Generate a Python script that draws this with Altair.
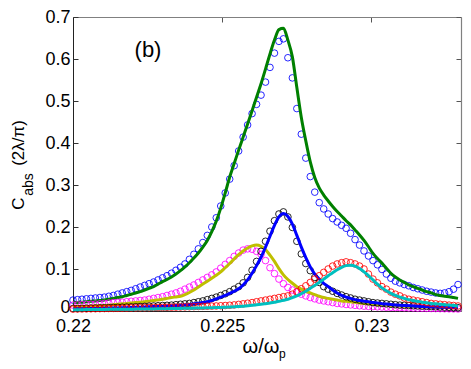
import altair as alt
import pandas as pd

# frequency grid (omega / omega_p)
x_vals = [0.22000, 0.22015, 0.22030, 0.22045, 0.22060, 0.22075, 0.22090, 0.22105, 0.22120, 0.22135,
          0.22150, 0.22165, 0.22180, 0.22195, 0.22210, 0.22225, 0.22240, 0.22255, 0.22270, 0.22285,
          0.22300, 0.22315, 0.22330, 0.22345, 0.22360, 0.22375, 0.22390, 0.22405, 0.22420, 0.22435,
          0.22450, 0.22465, 0.22480, 0.22495, 0.22510, 0.22525, 0.22540, 0.22555, 0.22570, 0.22585,
          0.22600, 0.22615, 0.22630, 0.22645, 0.22660, 0.22675, 0.22690, 0.22705, 0.22720, 0.22735,
          0.22750, 0.22765, 0.22780, 0.22795, 0.22810, 0.22825, 0.22840, 0.22855, 0.22870, 0.22885,
          0.22900, 0.22915, 0.22930, 0.22945, 0.22960, 0.22975, 0.22990, 0.23005, 0.23020, 0.23035,
          0.23050, 0.23065, 0.23080, 0.23095, 0.23110, 0.23125, 0.23140, 0.23155, 0.23170, 0.23185,
          0.23200, 0.23215, 0.23230, 0.23245, 0.23260, 0.23275, 0.23290]

total_data = [.026, .027, .028, .029, .030, .031, .032, .033, .035, .037,
              .040, .043, .046, .049, .053, .057, .061, .065, .069, .074,
              .079, .084, .090, .097, .104, .112, .123, .135, .148, .163,
              .180, .200, .222, .250, .281, .314, .346, .381, .414, .443,
              .470, .492, .514, .545, .580, .614, .642, .648, .603, .555,
              .482, .421, .364, .320, .283, .258, .243, .231, .220, .212,
              .204, .197, .185, .170, .157, .143, .131, .120, .110, .099,
              .088, .078, .071, .067, .063, .060, .056, .053, .050, .047,
              .045, .043, .042, .043, .046, .052, .063]

total_fit = [.020, .0205, .021, .022, .023, .024, .025, .026, .028, .030,
             .032, .034, .037, .040, .043, .046, .050, .054, .058, .064,
             .070, .075, .081, .088, .096, .105, .115, .126, .138, .152,
             .168, .189, .214, .245, .281, .319, .351, .383, .414, .445,
             .477, .509, .541, .576, .612, .645, .670, .673, .645, .605,
             .532, .461, .405, .355, .318, .293, .276, .262, .249, .237,
             .226, .215, .205, .193, .181, .168, .153, .137, .125, .114,
             .102, .090, .081, .074, .068, .062, .058, .054, .050, .046,
             .043, .039, .037, .035, .034, .032, .030]

mode1_data = [.014, .0145, .015, .0155, .016, .0165, .017, .018, .019, .020,
              .0205, .021, .022, .023, .024, .025, .026, .028, .030, .032,
              .034, .037, .040, .043, .047, .052, .057, .062, .068, .074,
              .080, .086, .093, .102, .111, .120, .130, .138, .145, .148,
              .147, .142, .135, .120, .103, .089, .076, .065, .056, .050,
              .045, .040, .036, .032, .029, .026, .024, .022, .020, .018,
              .017, .0155, .0145, .0135, .0125, .0115, .011, .0105, .010, .0095,
              .009, .0087, .0084, .0081, .0078, .0075, .0072, .0069, .0066, .0063,
              .006, .0058, .0056, .0054, .0052, .005, .0048]

mode1_fit = [.0095, .010, .0105, .011, .0115, .012, .0125, .013, .014, .015,
             .016, .017, .018, .019, .020, .021, .022, .0235, .025, .0265,
             .028, .030, .032, .0335, .035, .039, .044, .050, .057, .064,
             .071, .078, .085, .093, .103, .113, .124, .134, .143, .150,
             .155, .157, .154, .146, .133, .118, .101, .086, .075, .066,
             .058, .052, .047, .043, .039, .035, .032, .030, .028, .026,
             .024, .023, .022, .021, .019, .018, .017, .016, .015, .0145,
             .014, .013, .0125, .012, .0115, .011, .0105, .010, .0097, .0094,
             .0091, .0088, .0085, .0082, .008, .0078, .0076]

mode2_data = [.006, .006, .0063, .0066, .0069, .0072, .0075, .0078, .0081, .0084,
              .0087, .009, .0094, .0098, .0102, .0106, .011, .0115, .012, .0125,
              .013, .0135, .014, .015, .016, .017, .018, .020, .022, .024,
              .027, .030, .033, .037, .041, .046, .052, .058, .067, .080,
              .097, .118, .142, .166, .190, .215, .231, .236, .224, .199,
              .166, .136, .113, .096, .080, .068, .058, .052, .047, .042,
              .038, .034, .031, .028, .026, .024, .022, .020, .019, .018,
              .017, .016, .015, .014, .0135, .013, .0125, .012, .0115, .011,
              .0105, .010, .0095, .009, .0087, .0084, .008]

mode2_fit = [.005, .0052, .0054, .0056, .0058, .006, .0062, .0065, .0068, .0071,
             .0074, .0077, .008, .0084, .0088, .0092, .0096, .010, .0105, .011,
             .0115, .012, .0125, .013, .0135, .0145, .0155, .017, .0185, .020,
             .022, .025, .029, .033, .037, .042, .047, .053, .062, .074,
             .090, .108, .128, .152, .178, .204, .224, .232, .225, .207,
             .180, .152, .127, .105, .088, .076, .066, .058, .050, .043,
             .037, .033, .030, .027, .025, .023, .022, .020, .019, .0175,
             .0165, .0155, .0145, .0137, .013, .0123, .0117, .0112, .0107, .0102,
             .0098, .0094, .009, .0087, .0084, .0081, .0078]

mode3_data = [.0045, .0047, .0049, .0051, .0053, .0055, .0057, .0059, .0061, .0063,
              .0065, .0067, .0069, .0071, .0073, .0075, .0077, .0079, .0081, .0083,
              .0085, .0087, .009, .0093, .0096, .0099, .0102, .0105, .0108, .0111,
              .0114, .0117, .012, .0125, .013, .0137, .0145, .0157, .017, .0185,
              .020, .022, .024, .026, .028, .030, .032, .034, .036, .040,
              .046, .053, .060, .068, .076, .084, .092, .100, .107, .112,
              .115, .117, .115, .112, .107, .100, .088, .076, .067, .058,
              .052, .045, .040, .036, .031, .028, .026, .024, .022, .020,
              .018, .017, .016, .015, .014, .013, .012]

mode3_fit = [.003, .003, .0032, .0034, .0035, .0036, .0037, .0038, .0039, .004,
             .0041, .0042, .0043, .0044, .0045, .0046, .0047, .0048, .005, .0052,
             .0054, .0056, .0058, .006, .0062, .0064, .0066, .0068, .007, .0073,
             .0076, .0079, .0082, .0086, .009, .0095, .010, .0107, .0115, .0125,
             .0135, .0147, .016, .0175, .019, .021, .023, .0255, .028, .032,
             .036, .041, .047, .054, .061, .068, .076, .084, .091, .098,
             .104, .108, .109, .107, .101, .093, .084, .074, .064, .055,
             .048, .042, .037, .033, .030, .027, .025, .023, .021, .0195,
             .018, .017, .016, .015, .014, .013, .012]

x_ticks = [0.22, 0.225, 0.23]
y_ticks = [0, 0.1, 0.2, 0.3, 0.4, 0.5, 0.6, 0.7]

df = pd.DataFrame({
    "x": x_vals,
    "total_data": total_data, "total_fit": total_fit,
    "mode1_data": mode1_data, "mode1_fit": mode1_fit,
    "mode2_data": mode2_data, "mode2_fit": mode2_fit,
    "mode3_data": mode3_data, "mode3_fit": mode3_fit,
})

W, H = 388, 294
FONT = "Liberation Sans"
xs = alt.Scale(domain=[0.22, 0.233], nice=False, zero=False)
ys = alt.Scale(domain=[0, 0.7], nice=False, zero=False)


def pts(col, color):
    return alt.Chart(df).mark_point(shape="circle", filled=False, size=44, strokeWidth=0.85,
                                    color=color, opacity=1).encode(
        x=alt.X("x:Q", scale=xs, axis=None),
        y=alt.Y(f"{col}:Q", scale=ys, axis=None))


def ln(col, color):
    return alt.Chart(df).mark_line(color=color, strokeWidth=3, interpolate="monotone").encode(
        x=alt.X("x:Q", scale=xs, axis=None),
        y=alt.Y(f"{col}:Q", scale=ys, axis=None))


def ax_layer(xaxis, yaxis):
    return alt.Chart(df).mark_point(opacity=0).encode(
        x=alt.X("x:Q", scale=xs, axis=xaxis),
        y=alt.Y("total_data:Q", scale=ys, axis=yaxis))


common = dict(title=None, grid=False)
ax_main = ax_layer(
    alt.Axis(orient="bottom", values=x_ticks, format="~g", ticks=False, tickSize=0,
             domain=True, domainColor="#222222", domainWidth=1, labelFont=FONT,
             labelFontSize=18, labelColor="black", labelPadding=6, labelFlush=False,
             labelOverlap=False, **common),
    alt.Axis(orient="left", values=y_ticks, format="~g", ticks=False, tickSize=0,
             domain=True, domainColor="#222222", domainWidth=1, labelFont=FONT,
             labelFontSize=18, labelColor="black", labelPadding=3, labelFlush=False,
             labelOverlap=False,
             labelOffset=alt.condition("datum.value == 0", alt.value(-4), alt.value(0)),
             **common))
ax_in1 = ax_layer(
    alt.Axis(orient="top", offset=-H, values=x_ticks, labels=False, domain=False,
             ticks=True, tickSize=5, tickColor="#333333", **common),
    alt.Axis(orient="right", offset=-W, values=y_ticks, labels=False, domain=False,
             ticks=True, tickSize=5, tickColor="#333333", **common))
ax_in2 = ax_layer(
    alt.Axis(orient="bottom", offset=-H, values=x_ticks, labels=False, domain=True,
             domainColor="#808080", domainWidth=1.2, ticks=True, tickSize=5,
             tickColor="#555555", **common),
    alt.Axis(orient="left", offset=-W, values=y_ticks, labels=False, domain=True,
             domainColor="#808080", domainWidth=1.2, ticks=True, tickSize=5,
             tickColor="#555555", **common))


def txt(s, x, y, size, angle=0, align="center", baseline="alphabetic"):
    return alt.Chart(pd.DataFrame({"t": [s]})).mark_text(
        font=FONT, fontSize=size, angle=angle, align=align, baseline=baseline,
        color="black").encode(text="t:N", x=alt.value(x), y=alt.value(y))


texts = [
    txt("(b)", 75, 40, 22),
    txt("ω/ω", 188, 336, 20),
    txt("p", 206, 341, 12, align="left"),
    txt("C", -49, 186.5, 17, angle=270),
    txt("abs", -40.5, 167.5, 14, angle=270),
    txt("(2λ/π)", -49, 126, 17, angle=270),
]

layers = [
    ax_main, ax_in1, ax_in2,
    pts("total_data", "#0000ff"), ln("total_fit", "#008000"),
    pts("mode1_data", "#ff00ff"), ln("mode1_fit", "#bfbf00"),
    pts("mode2_data", "#000000"), ln("mode2_fit", "#0000ff"),
    pts("mode3_data", "#ff0000"), ln("mode3_fit", "#00bfbf"),
] + texts

chart = alt.layer(*layers).resolve_axis(x="independent", y="independent").properties(
    width=W, height=H,
    autosize=alt.AutoSizeParams(type="none"),
    padding={"left": 65, "top": 9, "right": 2, "bottom": 50},
    background="white",
).configure_view(stroke=None)

chart.save("out.html", embed_options={"renderer": "svg", "actions": False})
